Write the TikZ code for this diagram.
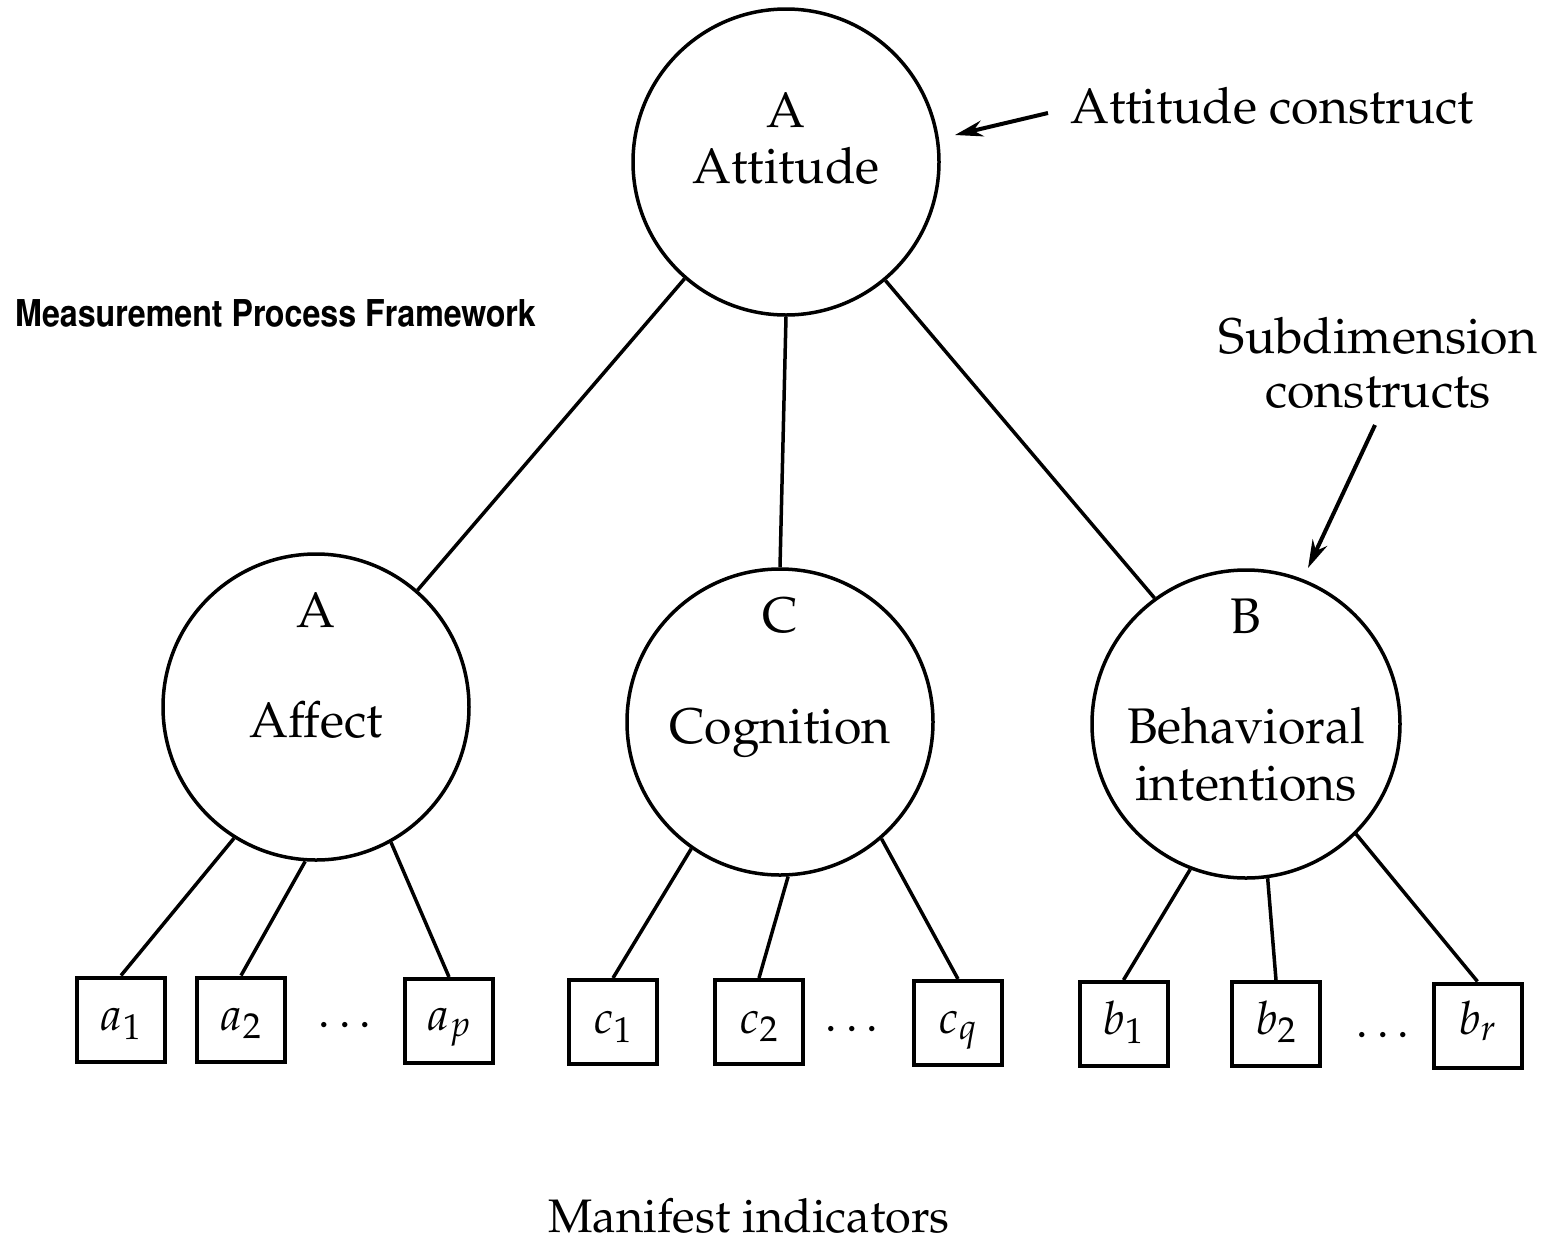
\documentclass[tikz,border=0pt]{standalone}
\usepackage[T1]{fontenc}
\usepackage{mathpazo}
\DeclareMathSizes{46}{46}{36}{28}
\usetikzlibrary{arrows.meta}
\begin{document}
\begin{tikzpicture}[x=1pt,y=-1pt,
  circ/.style={draw, circle, line width=3.5pt, minimum size=306pt, inner sep=0pt},
  ind/.style={draw, rectangle, line width=4pt, minimum width=88pt, minimum height=84pt, inner sep=0pt},
  mlbl/.style={anchor=base, inner sep=0pt, font=\fontsize{46}{54}\selectfont},
  lbl/.style={anchor=base, inner sep=0pt, font=\fontsize{50}{60}\selectfont},
  conn/.style={line width=3.5pt},
  arr/.style={line width=4pt, -{Stealth[length=28pt,width=16pt]}}]
\useasboundingbox[fill=white] (0,0) rectangle (1548,1254);

% circles
\node[circ] (att) at (786,162) {};
\node[circ] (aff) at (316,707) {};
\node[circ] (cog) at (780,722) {};
\node[circ, minimum size=308pt] (beh) at (1246,724) {};

% circle labels
\node[lbl] (attA) at (786,127) {A};
\node[lbl] (attT) at (786,183) {Attitude};
\node[lbl] (affA) at (316,627) {A};
\node[lbl] (affT) at (316,737) {Affect};
\node[lbl] (cogC) at (780,632) {C};
\node[lbl] (cogT) at (780,743) {Cognition};
\node[lbl] (behB) at (1246,633) {B};
\node[lbl] (behT1) at (1246,743) {Behavioral};
\node[lbl] (behT2) at (1246,800) {intentions};

% indicator boxes
\node[ind] (a1) at (121,1019.5) {};
\node[ind] (a2) at (241,1019.5) {};
\node[ind] (ap) at (449,1021) {};
\node[ind] (c1) at (613,1022) {};
\node[ind] (c2) at (759,1022) {};
\node[ind] (cq) at (958,1023) {};
\node[ind] (b1) at (1123.5,1024) {};
\node[ind] (b2) at (1276,1024) {};
\node[ind] (br) at (1477.5,1025.5) {};

\node[mlbl] (la1) at (121,1030) {$a_1$};
\node[mlbl] (la2) at (241,1030) {$a_2$};
\node[mlbl] (lap) at (449,1030) {$a_p$};
\node[mlbl] (lc1) at (613,1033) {$c_1$};
\node[mlbl] (lc2) at (759,1033) {$c_2$};
\node[mlbl] (lcq) at (958,1033) {$c_q$};
\node[mlbl] (lb1) at (1123.5,1034) {$b_1$};
\node[mlbl] (lb2) at (1276,1034) {$b_2$};
\node[mlbl] (lbr) at (1477.5,1034) {$b_r$};

\node[mlbl] (dotsa) at (345,1027) {.\hspace{9pt}.\hspace{9pt}.};
\node[mlbl] (dotsc) at (852,1031) {.\hspace{9pt}.\hspace{9pt}.};
\node[mlbl] (dotsb) at (1383,1037) {.\hspace{9pt}.\hspace{9pt}.};

% top connectors
\draw[conn] (att.229.7) -- (aff.49.9);
\draw[conn] (att.south) -- (cog.north);
\draw[conn] (att.310.7) -- (beh.126.5);

% bottom connectors
\draw[conn] (aff.238) -- (a1.north);
\draw[conn] (aff.266) -- (a2.north);
\draw[conn] (aff.299) -- (ap.north);
\draw[conn] (cog.235.6) -- (c1.north);
\draw[conn] (cog.273.3) -- (c2.north);
\draw[conn] (cog.311.4) -- (cq.north);
\draw[conn] (beh.249.4) -- (b1.north);
\draw[conn] (beh.278.4) -- (b2.north);
\draw[conn] (beh.315.3) -- (br.north);

% annotations
\node[lbl, anchor=base west] (acLab) at (1070,123) {Attitude construct};
\coordinate (acStart) at (1048,113);
\coordinate (acTip) at (955,135);
\draw[arr] (acStart) -- (acTip);

\node[lbl] (sd1) at (1378,353) {Subdimension};
\node[lbl] (sd2) at (1378,407) {constructs};
\coordinate (sdStart) at (1375,425);
\coordinate (sdTip) at (1308,568);
\draw[arr] (sdStart) -- (sdTip);

\node[anchor=base west, inner sep=0pt, font=\fontfamily{phv}\fontseries{b}\fontsize{37}{44}\selectfont] (title) at (15,326) {\scalebox{0.87}[1]{Measurement Process Framework}};

\node[lbl, font=\fontsize{47}{56}\selectfont] (mi) at (749,1232) {Manifest indicators};
\end{tikzpicture}
\end{document}
